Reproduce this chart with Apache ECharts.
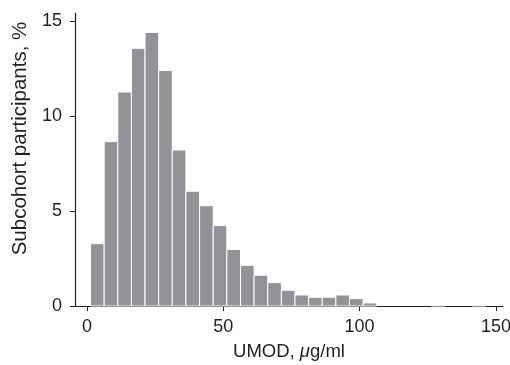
<!DOCTYPE html>
<html>
<head>
<meta charset="utf-8">
<script src="https://cdn.jsdelivr.net/npm/echarts@6/dist/echarts.min.js"></script>
<style>
  html, body { margin: 0; padding: 0; background: #fff; }
  #chart { width: 510px; height: 365px; }
</style>
</head>
<body>
<div id="chart"></div>
<script>
// histogram bins (left edge, right edge) in ug/ml and share of participants in %
const binLeft = [1.3, 6.3, 11.3, 16.3, 21.3, 26.3, 31.3, 36.3, 41.3, 46.3, 51.3, 56.3, 61.3, 66.3, 71.3,
  76.3, 81.3, 86.3, 91.3, 96.3, 101.3, 126.3, 141.3];
const binRight = [6.3, 11.3, 16.3, 21.3, 26.3, 31.3, 36.3, 41.3, 46.3, 51.3, 56.3, 61.3, 66.3, 71.3, 76.3,
  81.3, 86.3, 91.3, 96.3, 101.3, 106.3, 131.3, 146.3];
const percent = [3.28, 8.65, 11.26, 13.56, 14.4, 12.4, 8.21, 6.04, 5.28, 4.23, 2.98, 2.14, 1.62, 1.23, 0.83,
  0.58, 0.46, 0.46, 0.58, 0.39, 0.16, 0.04, 0.04];
const xTicks = [0, 50, 100, 150];
const yTicks = [0, 5, 10, 15];

const FONT = 'Liberation Sans, Arial, sans-serif';
const INK = '#231f20';

const chart = echarts.init(document.getElementById('chart'));

chart.setOption({
  animation: false,
  backgroundColor: '#fff',
  grid: { left: 75, top: 13, right: 7, bottom: 59, outerBoundsMode: 'none', containLabel: false },
  xAxis: {
    type: 'value',
    min: -4.4,
    max: 152.6,
    splitLine: { show: false },
    axisLine: { onZero: false, lineStyle: { color: INK, width: 1.2 } },
    axisTick: { customValues: xTicks, length: 5, lineStyle: { color: INK } },
    axisLabel: { customValues: xTicks, color: INK, fontSize: 18, fontFamily: FONT, margin: 12 },
    // mu is set in italics, as in the source figure
    name: '{t|UMOD, }{mu|\u03bc}{t|g/ml}',
    nameLocation: 'middle',
    nameGap: 36,
    nameTextStyle: {
      color: INK, fontSize: 18.5, fontFamily: FONT,
      rich: {
        t: { color: INK, fontSize: 18.5, fontFamily: FONT },
        mu: { color: INK, fontSize: 18.5, fontFamily: FONT, fontStyle: 'italic' }
      }
    }
  },
  yAxis: {
    type: 'value',
    min: 0,
    max: 15.42,
    splitLine: { show: false },
    axisLine: { show: true, onZero: false, lineStyle: { color: INK, width: 1.2 } },
    axisTick: { show: true, customValues: yTicks, length: 5, lineStyle: { color: INK } },
    axisLabel: { customValues: yTicks, color: INK, fontSize: 18, fontFamily: FONT, margin: 13 },
    name: 'Subcohort participants, %',
    nameLocation: 'middle',
    nameGap: 44,
    nameTextStyle: { color: INK, fontSize: 20.5, fontFamily: FONT, padding: [0, 0, 0, 42] }
  },
  series: [{
    type: 'custom',
    data: percent.map((v, i) => [binLeft[i], binRight[i], v]),
    encode: { x: [0, 1], y: 2 },
    renderItem: function (params, api) {
      const p0 = api.coord([api.value(0), 0]);
      const p1 = api.coord([api.value(1), api.value(2)]);
      return {
        type: 'rect',
        shape: { x: p0[0], y: p1[1], width: p1[0] - p0[0], height: p0[1] - p1[1] },
        style: { fill: '#929396', stroke: '#ffffff', lineWidth: 1 }
      };
    }
  }]
});
</script>
</body>
</html>
